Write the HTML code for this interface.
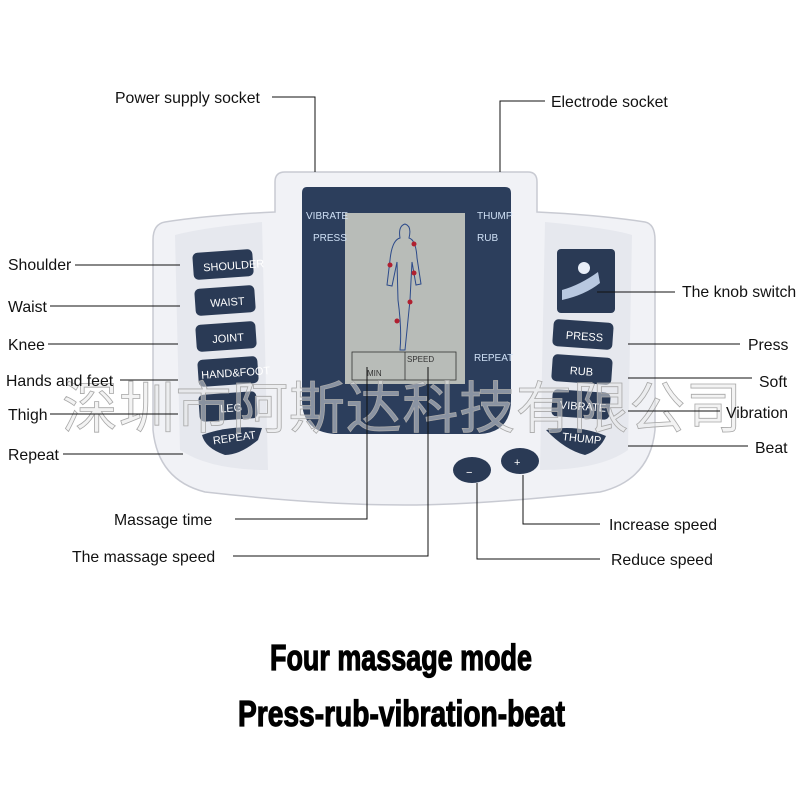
<!DOCTYPE html>
<html><head><meta charset="utf-8"><style>
html,body{margin:0;padding:0;background:#fff;}
svg{display:block;}
.l{font-family:"Liberation Sans",sans-serif;font-size:15.8px;fill:#111;}
.b{font-family:"Liberation Sans Narrow","Liberation Sans",sans-serif;font-weight:bold;font-size:36px;fill:#000;stroke:#000;stroke-width:1.2;}
.bt{font-family:"Liberation Sans Narrow","Liberation Sans",sans-serif;font-size:11px;fill:#fff;}
.lcd{font-family:"Liberation Sans Narrow","Liberation Sans",sans-serif;font-size:10px;fill:#cfe0f5;}
</style></head><body>
<svg width="800" height="800" viewBox="0 0 800 800" xmlns="http://www.w3.org/2000/svg">
<path d="M285 172 L528 172 Q537 172 537 182 L537 212 Q600 215 645 222 Q655 224 655 240 L655 430 Q650 480 600 492 Q480 505 405 505 Q320 505 205 492 Q158 480 153 430 L153 240 Q153 224 165 222 Q210 215 275 212 L275 182 Q275 172 285 172 Z" fill="#f1f2f6" stroke="#c8cad2" stroke-width="1.5"/>
<path d="M175 235 Q200 228 262 222 L268 470 Q210 470 180 450 Z" fill="#e6e8ee"/>
<path d="M632 235 Q610 228 545 222 L540 470 Q600 470 628 450 Z" fill="#e6e8ee"/>
<path d="M307 187 L505 187 Q511 187 511 193 L511 400 Q511 432 480 434 L335 434 Q302 432 302 400 L302 193 Q302 187 307 187 Z" fill="#2c3e5c"/>
<rect x="345" y="213" width="120" height="171" fill="#b8bcb8"/>
<rect x="352" y="352" width="104" height="28" fill="none" stroke="#333" stroke-width="0.8"/>
<line x1="405" y1="352" x2="405" y2="380" stroke="#333" stroke-width="0.8"/>
<text x="367" y="376" font-family="Liberation Sans" font-size="8" fill="#333">MIN</text>
<text x="407" y="362" font-family="Liberation Sans" font-size="8" fill="#333">SPEED</text>
<path d="M405 224 Q398 226 400 238 Q392 240 390 260 L387 285 L392 286 L397 262 L398 300 Q402 330 400 350 L405 350 Q408 320 410 300 L412 262 L416 285 L421 284 L417 258 Q416 240 409 238 Q412 226 405 224 Z" fill="none" stroke="#2c4a8a" stroke-width="1"/>
<circle cx="414" cy="244" r="2.5" fill="#b02030"/><circle cx="390" cy="265" r="2.5" fill="#b02030"/><circle cx="414" cy="273" r="2.5" fill="#b02030"/><circle cx="410" cy="302" r="2.5" fill="#b02030"/><circle cx="397" cy="321" r="2.5" fill="#b02030"/>
<text class="lcd" x="306" y="219">VIBRATE</text><text class="lcd" x="313" y="241">PRESS</text>
<text class="lcd" x="477" y="219">THUMP</text><text class="lcd" x="477" y="241">RUB</text>
<text class="lcd" x="474" y="361">REPEAT</text>
<g fill="#2a3a55">
<rect x="193" y="251" width="60" height="27" rx="5" transform="rotate(-4 223 264)"/>
<rect x="195" y="287" width="60" height="27" rx="5" transform="rotate(-4 225 300)"/>
<rect x="196" y="323" width="60" height="27" rx="5" transform="rotate(-4 226 336)"/>
<rect x="198" y="358" width="60" height="27" rx="5" transform="rotate(-4 228 371)"/>
<rect x="199" y="393" width="58" height="27" rx="5" transform="rotate(-4 228 406)"/>
<path d="M202 435 Q230 425 262 428 L258 440 Q240 455 225 455 Q205 448 202 435 Z"/>
<rect x="557" y="249" width="58" height="64" rx="4"/>
<rect x="553" y="321" width="60" height="27" rx="5" transform="rotate(4 583 334)"/>
<rect x="552" y="356" width="60" height="27" rx="5" transform="rotate(4 582 369)"/>
<rect x="552" y="391" width="58" height="27" rx="5" transform="rotate(4 581 404)"/>
<path d="M546 430 Q578 424 606 436 Q600 450 585 455 Q565 450 546 430 Z"/>
<ellipse cx="472" cy="470" rx="19" ry="13"/>
<ellipse cx="520" cy="461" rx="19" ry="13"/>
</g>
<path d="M562 290 Q580 285 598 272 L600 283 Q585 295 562 300 Z" fill="#b8c8e0"/>
<circle cx="584" cy="268" r="6" fill="#e8eef8"/>
<text class="bt" x="203" y="270" transform="rotate(-4 223 264)">SHOULDER</text>
<text class="bt" x="210" y="306" transform="rotate(-4 225 300)">WAIST</text>
<text class="bt" x="212" y="342" transform="rotate(-4 226 336)">JOINT</text>
<text class="bt" x="201" y="377" font-size="9" transform="rotate(-4 228 371)">HAND&amp;FOOT</text>
<text class="bt" x="220" y="412" transform="rotate(-4 228 406)">LEG</text>
<text class="bt" x="213" y="442" transform="rotate(-8 230 440)">REPEAT</text>
<text class="bt" x="566" y="340" font-size="13" transform="rotate(4 583 334)">PRESS</text>
<text class="bt" x="570" y="375" transform="rotate(4 582 369)">RUB</text>
<text class="bt" x="560" y="410" transform="rotate(4 581 404)">VIBRATE</text>
<text class="bt" x="562" y="442" transform="rotate(6 580 440)">THUMP</text>
<text class="bt" x="466" y="476" font-size="16">−</text>
<text class="bt" x="514" y="466" font-size="16">+</text>
<text x="62" y="428" font-family="'Noto Sans CJK SC',sans-serif" font-size="56" fill="#e8e8e8" fill-opacity="0.5" stroke="#a8a8a8" stroke-width="0.8" textLength="680">深圳市阿斯达科技有限公司</text>
<g stroke="#111" stroke-width="1" fill="none">
<polyline points="272,97 315,97 315,172"/>
<polyline points="545,101 500,101 500,172"/>
<line x1="75" y1="265" x2="180" y2="265"/>
<line x1="50" y1="306" x2="180" y2="306"/>
<line x1="48" y1="344" x2="178" y2="344"/>
<line x1="120" y1="380" x2="178" y2="380"/>
<line x1="50" y1="414" x2="178" y2="414"/>
<line x1="63" y1="454" x2="183" y2="454"/>
<line x1="597" y1="292" x2="675" y2="292"/>
<line x1="628" y1="344" x2="740" y2="344"/>
<line x1="628" y1="378" x2="752" y2="378"/>
<line x1="628" y1="411" x2="720" y2="411"/>
<line x1="628" y1="446" x2="748" y2="446"/>
<polyline points="235,519 367,519 367,367"/>
<polyline points="233,556 428,556 428,367"/>
<polyline points="523,475 523,524 600,524"/>
<polyline points="477,483 477,559 600,559"/>
</g>
<text class="l" x="115" y="103">Power supply socket</text>
<text class="l" x="551" y="107">Electrode socket</text>
<text class="l" x="8" y="270">Shoulder</text>
<text class="l" x="8" y="312">Waist</text>
<text class="l" x="8" y="350">Knee</text>
<text class="l" x="6" y="386">Hands and feet</text>
<text class="l" x="8" y="420">Thigh</text>
<text class="l" x="8" y="460">Repeat</text>
<text class="l" x="682" y="297">The knob switch</text>
<text class="l" x="748" y="350">Press</text>
<text class="l" x="759" y="387">Soft</text>
<text class="l" x="726" y="418">Vibration</text>
<text class="l" x="755" y="453">Beat</text>
<text class="l" x="114" y="525">Massage time</text>
<text class="l" x="72" y="562">The massage speed</text>
<text class="l" x="609" y="530">Increase speed</text>
<text class="l" x="611" y="565">Reduce speed</text>
<text class="b" x="270" y="670" textLength="262" lengthAdjust="spacingAndGlyphs">Four massage mode</text>
<text class="b" x="238" y="726" textLength="327" lengthAdjust="spacingAndGlyphs">Press-rub-vibration-beat</text>
</svg>
</body></html>
